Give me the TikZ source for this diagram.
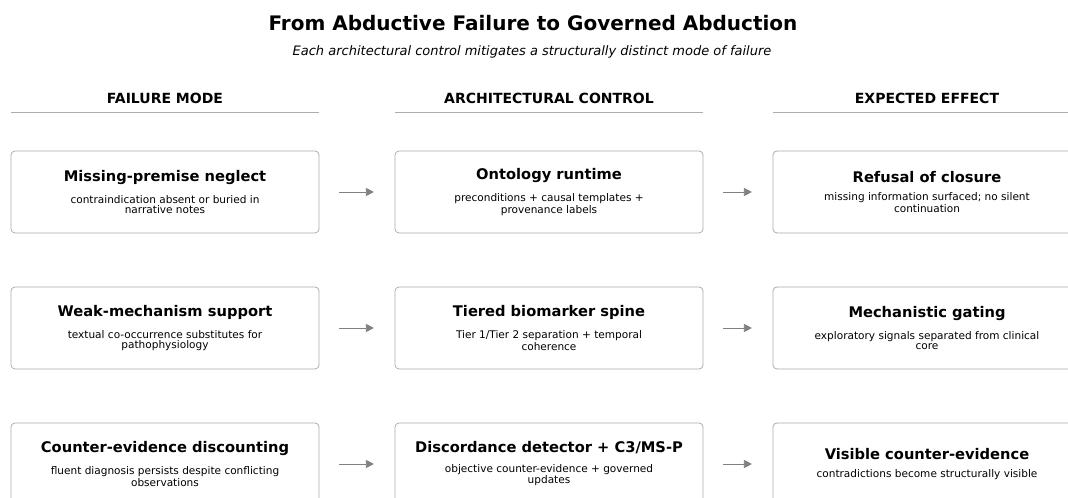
\documentclass[tikz,border=0pt]{standalone}
\usepackage{fontspec}
\setmainfont{DejaVu Sans}
\usetikzlibrary{arrows.meta}
\definecolor{boxgray}{HTML}{AAAAAA}
\definecolor{rulegray}{HTML}{ADADAD}
\definecolor{arrowgray}{HTML}{808080}
\newcommand{\cardtitle}[1]{{\fontsize{11}{13}\selectfont\bfseries #1}}

\begin{document}
\begin{tikzpicture}[x=0.75pt, y=-0.75pt,
		card/.style={draw=boxgray, line width=0.6pt, rounded corners=3pt,
			minimum width=231pt, minimum height=61.5pt, inner sep=0pt,
			align=center, font=\fontsize{7.9}{7.6}\selectfont},
		colhead/.style={font=\fontsize{10.5}{12}\selectfont\bfseries},
		flow/.style={draw=arrowgray, line width=0.6pt,
			-{Triangle[length=6pt, width=6pt]},
			shorten <=15pt, shorten >=15.5pt},
	]
	\clip (0,0) rectangle (1068,498);

	% title
	\node[font=\fontsize{15}{17}\selectfont\bfseries] (title) at (533,23) {From Abductive Failure to Governed Abduction};
	\node[font=\fontsize{9.75}{11}\selectfont\itshape] (subtitle) at (532,52) {Each architectural control mitigates a structurally distinct mode of failure};

	% column heads
	\node[colhead] (h0) at (165,98) {FAILURE MODE};
	\node[colhead] (h1) at (549,98) {ARCHITECTURAL CONTROL};
	\node[colhead] (h2) at (927,98) {EXPECTED EFFECT};
	\draw[rulegray, line width=0.6pt] (11,112) -- (319,112);
	\draw[rulegray, line width=0.6pt] (395,112) -- (703,112);
	\draw[rulegray, line width=0.6pt] (773,112) -- (1081,112);

	% row 1
	\node[card] (f0) at (165,192) {\cardtitle{Missing-premise neglect}\\[7pt]
		contraindication absent or buried in\\ narrative notes};
	\node[card] (c0) at (549,192) {\cardtitle{Ontology runtime}\\[7pt]
		preconditions + causal templates +\\ provenance labels};
	\node[card] (e0) at (927,192) {\cardtitle{Refusal of closure}\\[6pt]
		missing information surfaced; no silent\\ continuation};

	% row 2
	\node[card] (f1) at (165,328) {\cardtitle{Weak-mechanism support}\\[7pt]
		textual co-occurrence substitutes for\\ pathophysiology};
	\node[card] (c1) at (549,328) {\cardtitle{Tiered biomarker spine}\\[7pt]
		Tier 1/Tier 2 separation + temporal\\ coherence};
	\node[card] (e1) at (927,328) {\cardtitle{Mechanistic gating}\\[7pt]
		exploratory signals separated from clinical\\ core};

	% row 3
	\node[card] (f2) at (165,464) {\cardtitle{Counter-evidence discounting}\\[7pt]
		fluent diagnosis persists despite conflicting\\ observations};
	\node[card] (c2) at (549,464) {\cardtitle{Discordance detector + C3/MS-P}\\[7pt]
		objective counter-evidence + governed\\ updates};
	\node[card] (e2) at (927,464) {\cardtitle{Visible counter-evidence}\\[6pt]
		contradictions become structurally visible};

	\draw[flow] (f0) -- (c0);
	\draw[flow] (c0) -- (e0);
	\draw[flow] (f1) -- (c1);
	\draw[flow] (c1) -- (e1);
	\draw[flow] (f2) -- (c2);
	\draw[flow] (c2) -- (e2);
\end{tikzpicture}
\end{document}
